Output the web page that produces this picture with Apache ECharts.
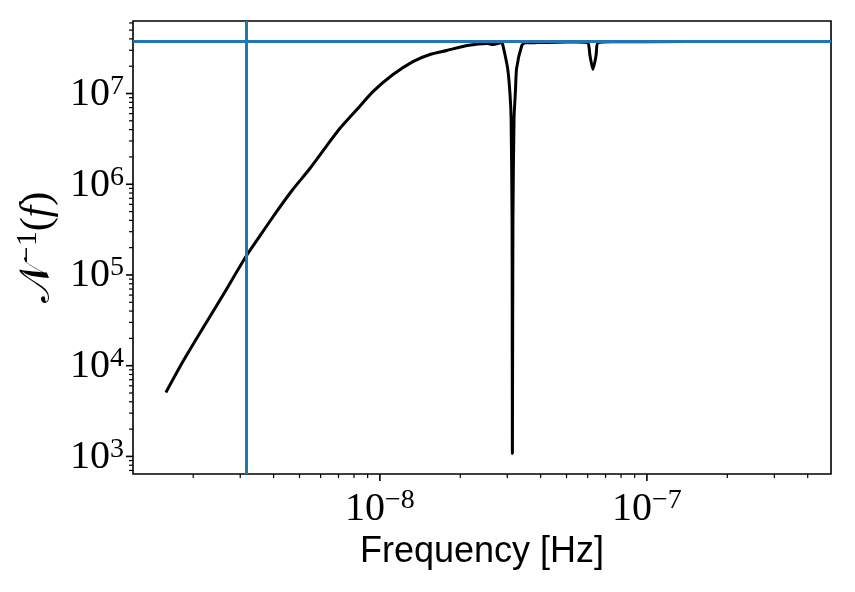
<!DOCTYPE html>
<html>
<head>
<meta charset="utf-8">
<script src="https://cdn.jsdelivr.net/npm/echarts@6/dist/echarts.min.js"></script>
<style>
  html, body { margin: 0; padding: 0; background: #fff; }
  #chart { width: 855px; height: 592px; }
</style>
</head>
<body>
<div id="chart"></div>
<script>
// frequency [Hz] and inverse noise N^-1(f)
const freq = [
  1.58e-9, 1.83e-9, 2.17e-9, 2.58e-9, 3.15e-9, 3.56e-9, 4.11e-9, 4.72e-9,
  5.47e-9, 6.33e-9, 7.08e-9, 8.20e-9, 9.42e-9, 1.12e-8, 1.33e-8, 1.54e-8,
  1.78e-8, 2.12e-8, 2.52e-8, 2.65e-8, 2.86e-8, 2.89e-8, 3.01e-8, 3.07e-8,
  3.10e-8, 3.126e-8, 3.135e-8, 3.15e-8, 3.18e-8, 3.22e-8, 3.25e-8, 3.40e-8,
  3.50e-8, 3.90e-8, 4.60e-8, 5.50e-8, 6.01e-8, 6.12e-8, 6.28e-8, 6.45e-8,
  6.55e-8, 7.50e-8, 1.0e-7, 2.0e-7, 3.78e-7
]
const invNoise = [
  5.07e3, 1.11e4, 2.57e4, 5.94e4, 1.60e5, 2.72e5, 5.01e5, 8.75e5,
  1.49e6, 2.67e6, 4.11e6, 6.66e6, 1.05e7, 1.62e7, 2.25e7, 2.69e7,
  2.98e7, 3.38e7, 3.56e7, 3.47e7, 3.65e7, 3.38e7, 1.88e7, 1.0e7,
  5.31e6, 4.2e5, 1.08e3, 4.2e5, 5.31e6, 1.1e7, 1.88e7, 3.38e7,
  3.62e7, 3.64e7, 3.68e7, 3.70e7, 3.62e7, 2.62e7, 1.84e7, 2.62e7,
  3.62e7, 3.72e7, 3.73e7, 3.74e7, 3.74e7
]
// reference lines
const hLine = 3.74e7
const vLine = 3.17e-9

// axis extents and ticks
const xMin = 1.19e-9
const xMax = 4.89e-7
const yMin = 640
const yMax = 6.3e7
const xMajorTicks = [1e-8, 1e-7]
const xMinorTicks = [
  2e-9, 3e-9, 4e-9, 5e-9, 6e-9, 7e-9, 8e-9, 9e-9,
  2e-8, 3e-8, 4e-8, 5e-8, 6e-8, 7e-8, 8e-8, 9e-8,
  2e-7, 3e-7, 4e-7
]
const yMajorTicks = [1e3, 1e4, 1e5, 1e6, 1e7]
const yMinorTicks = [
  7e2, 8e2, 9e2,
  2e3, 3e3, 4e3, 5e3, 6e3, 7e3, 8e3, 9e3,
  2e4, 3e4, 4e4, 5e4, 6e4, 7e4, 8e4, 9e4,
  2e5, 3e5, 4e5, 5e5, 6e5, 7e5, 8e5, 9e5,
  2e6, 3e6, 4e6, 5e6, 6e6, 7e6, 8e6, 9e6,
  2e7, 3e7, 4e7, 5e7, 6e7
]

const serif = 'Liberation Serif'
const powRich = {
  b: { fontFamily: serif, fontSize: 40, lineHeight: 42, color: '#000', verticalAlign: 'bottom' },
  s: { fontFamily: serif, fontSize: 28, lineHeight: 28, color: '#000', verticalAlign: 'top' }
}

function powLabel(v) {
  const e = Math.log10(v)
  const r = Math.round(e)
  if (Math.abs(e - r) > 1e-6) return ''
  return '{b|10}{s|' + String(r).replace('-', '\u2212') + '}'
}

// tick marks drawn through the axes' own scales
function tickSeries(values, horizontal, len, width) {
  return {
    type: 'custom',
    silent: true,
    clip: false,
    z: 5,
    data: values.map(v => horizontal ? [v, yMin] : [xMin, v]),
    renderItem(params, api) {
      const p = api.coord([api.value(0), api.value(1)])
      return {
        type: 'line',
        shape: horizontal
          ? { x1: p[0], y1: p[1], x2: p[0], y2: p[1] + len }
          : { x1: p[0], y1: p[1], x2: p[0] - len, y2: p[1] },
        style: { stroke: '#000', lineWidth: width }
      }
    }
  }
}

const chart = echarts.init(document.getElementById('chart'))
chart.setOption({
  animation: false,
  backgroundColor: '#fff',
  grid: {
    left: 133,
    right: 24,
    top: 21,
    bottom: 118,
    show: true,
    borderColor: '#000',
    borderWidth: 1.6
  },
  xAxis: {
    type: 'log',
    logBase: 10,
    min: xMin,
    max: xMax,
    axisLine: { show: false },
    axisTick: { show: false },
    splitLine: { show: false },
    axisLabel: {
      margin: 13,
      showMinLabel: false,
      showMaxLabel: false,
      formatter: powLabel,
      rich: powRich
    },
    name: 'Frequency [Hz]',
    nameLocation: 'middle',
    nameGap: 58,
    nameTextStyle: { fontFamily: 'Liberation Sans', fontSize: 36, color: '#000' }
  },
  yAxis: {
    type: 'log',
    logBase: 10,
    min: yMin,
    max: yMax,
    axisLine: { show: false },
    axisTick: { show: false },
    splitLine: { show: false },
    axisLabel: {
      margin: 9,
      showMinLabel: false,
      showMaxLabel: false,
      formatter: powLabel,
      rich: powRich
    },
    name: '{n|\uD835\uDCA9}{s|\u22121}{p|(}{f|f}{p|)}',
    nameLocation: 'middle',
    nameRotate: 90,
    nameGap: 70,
    nameTextStyle: {
      rich: {
        n: { fontFamily: 'DejaVu Serif', fontSize: 42, lineHeight: 46, color: '#000', verticalAlign: 'bottom' },
        s: { fontFamily: serif, fontSize: 30, lineHeight: 30, color: '#000', verticalAlign: 'top' },
        p: { fontFamily: serif, fontSize: 42, lineHeight: 46, color: '#000', verticalAlign: 'bottom' },
        f: { fontFamily: serif, fontStyle: 'italic', fontSize: 42, lineHeight: 46, color: '#000', verticalAlign: 'bottom' }
      }
    }
  },
  series: [
    {
      type: 'line',
      data: freq.map((f, i) => [f, invNoise[i]]),
      showSymbol: false,
      symbol: 'none',
      smooth: 0.2,
      lineStyle: { color: '#000', width: 3 },
      z: 2,
      markLine: {
        silent: true,
        symbol: ['none', 'none'],
        label: { show: false },
        lineStyle: { color: '#1f77b4', width: 3, type: 'solid' },
        data: [
          { yAxis: hLine },
          [{ coord: [vLine, yMin] }, { coord: [vLine, yMax] }]
        ]
      }
    },
    tickSeries(xMajorTicks, true, 7, 1.6),
    tickSeries(xMinorTicks, true, 4, 1.2),
    tickSeries(yMajorTicks, false, 7, 1.6),
    tickSeries(yMinorTicks, false, 4, 1.2)
  ]
})
</script>
</body>
</html>
